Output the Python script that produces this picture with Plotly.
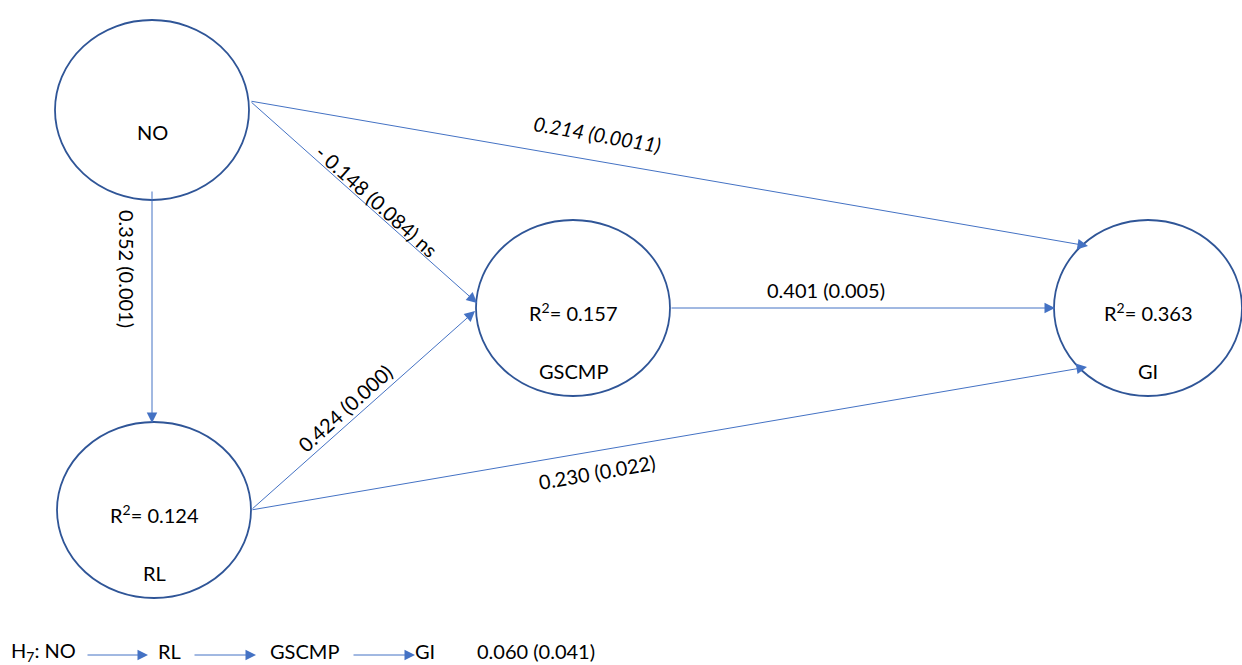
import plotly.graph_objects as go

# ---- data ----
node_names = ["NO", "RL", "GSCMP", "GI"]
node_r2 = [None, "0.124", "0.157", "0.363"]

path_from = ["NO", "NO", "NO", "RL", "RL", "GSCMP"]
path_to = ["GI", "GSCMP", "RL", "GSCMP", "GI", "GI"]
path_coef = ["0.214", "- 0.148", "0.352", "0.424", "0.230", "0.401"]
path_p = ["(0.0011)", "(0.084) ns", "(0.001)", "(0.000)", "(0.022)", "(0.005)"]

h7_chain = ["NO", "RL", "GSCMP", "GI"]
h7_coef = "0.060"
h7_p = "(0.041)"

# ---- layout geometry (pixel coordinates) ----
node_center = {"NO": (152, 110), "RL": (154, 510), "GSCMP": (573, 308), "GI": (1148, 308)}
node_radius = {"NO": (97, 90), "RL": (97, 88), "GSCMP": (97, 88), "GI": (94, 88)}
path_tail = [(250, 101), (250, 101), (152, 190), (251, 510), (251, 510), (670, 308)]
path_head = [(1088, 246), (477, 303), (152, 423), (475, 311), (1087, 367), (1055, 308)]
label_pos = [(597, 134), (377, 201), (127, 269), (345, 408), (597, 472), (826, 290)]
label_angle = [10, 42, 90, -42, -10, 0]
label_italic = [True, False, False, False, False, False]

ELL = "#2F5597"
ARR = "#4472C4"
FONT = "Lato"
FS = 20

fig = go.Figure()
shapes = []
annotations = []

for name in node_names:
    cx, cy = node_center[name]
    rx, ry = node_radius[name]
    shapes.append(dict(type="circle", xref="x", yref="y", x0=cx - rx, x1=cx + rx,
                       y0=cy - ry, y1=cy + ry, line=dict(color=ELL, width=1.8)))

for i, name in enumerate(node_names):
    cx, cy = node_center[name]
    r2 = node_r2[i]
    if r2 is None:
        annotations.append(dict(x=cx, y=cy + 22, text=name, showarrow=False,
                                font=dict(family=FONT, size=FS, color="black")))
    else:
        annotations.append(dict(x=cx, y=cy + 4, text="R<sup>2</sup>= " + r2, showarrow=False,
                                font=dict(family=FONT, size=FS, color="black")))
        annotations.append(dict(x=cx, y=cy + 63, text=name, showarrow=False,
                                font=dict(family=FONT, size=FS, color="black")))

ARROW = dict(showarrow=True, arrowhead=2, arrowsize=2.1, arrowwidth=1,
             arrowcolor=ARR, standoff=0, startstandoff=0)

for i in range(len(path_coef)):
    (tx, ty), (hx, hy) = path_tail[i], path_head[i]
    annotations.append(dict(x=hx, y=hy, ax=tx, ay=ty, xref="x", yref="y", axref="x", ayref="y",
                            text="", **ARROW))
    lx, ly = label_pos[i]
    txt = path_coef[i] + " " + path_p[i]
    if label_italic[i]:
        txt = "<i>" + txt + "</i>"
    annotations.append(dict(x=lx, y=ly, text=txt, showarrow=False, textangle=label_angle[i],
                            font=dict(family=FONT, size=FS, color="black")))

# H7 row
row_y = 651
row_text_x = [43, 169, 304, 425]
row_labels = ["H<sub>7</sub>: " + h7_chain[0]] + h7_chain[1:]
for x, t in zip(row_text_x, row_labels):
    annotations.append(dict(x=x, y=row_y, text=t, showarrow=False,
                            font=dict(family=FONT, size=FS, color="black")))
row_arrows = [(86, 148), (193, 256), (352, 415)]
for x0, x1 in row_arrows:
    annotations.append(dict(x=x1, y=row_y + 4, ax=x0, ay=row_y + 4, xref="x", yref="y",
                            axref="x", ayref="y", text="", **ARROW))
annotations.append(dict(x=536, y=row_y, text=h7_coef + " " + h7_p, showarrow=False,
                        font=dict(family=FONT, size=FS, color="black")))

fig.update_layout(
    width=1242, height=665,
    margin=dict(l=0, r=0, t=0, b=0),
    paper_bgcolor="white", plot_bgcolor="white",
    xaxis=dict(range=[0, 1242], visible=False, fixedrange=True),
    yaxis=dict(range=[665, 0], visible=False, fixedrange=True),
    shapes=shapes, annotations=annotations, showlegend=False,
)
fig.write_html("out.html", config={"displayModeBar": False})

# remove default page margin so the 1242x665 figure fills the window exactly
with open("out.html", encoding="utf-8") as f:
    html = f.read()
html = html.replace("<body>", '<body style="margin:0;overflow:hidden">', 1)
with open("out.html", "w", encoding="utf-8") as f:
    f.write(html)
